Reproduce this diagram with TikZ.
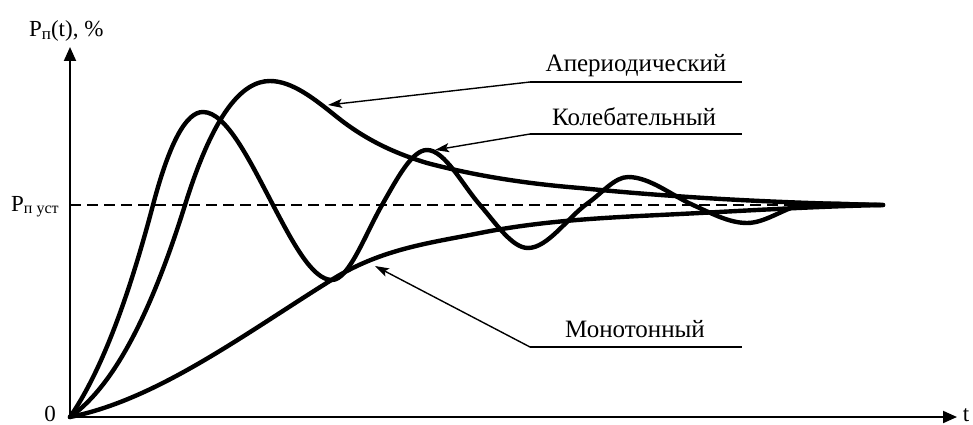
\documentclass[tikz,border=0pt]{standalone}
\usepackage{fontspec}
\setmainfont{Liberation Serif}
\usetikzlibrary{arrows.meta}
\newcommand{\subpp}[2]{\raisebox{-0.1em}{\fontsize{#1}{#1}\selectfont #2}}
\begin{document}
\begin{tikzpicture}[x=1pt,y=-1pt,
  curve/.style={line width=4.4pt, line cap=round, line join=round},
  axisline/.style={line width=2pt, -{Triangle[length=14pt,width=12pt]}},
  leaderline/.style={line width=1.4pt},
  leaderarrow/.style={line width=1.4pt, -{Stealth[length=14pt,width=9pt,inset=3pt]}},
  lbl/.style={font=\fontsize{25}{29}\selectfont, anchor=base, inner sep=0pt},
  axlbl/.style={font=\fontsize{23}{27}\selectfont, inner sep=0pt},
  guide/.style={line width=1.6pt, dash pattern=on 11pt off 6pt}
]
\useasboundingbox (0,0) rectangle (973,425);

% axes
\coordinate (O) at (70,417);
\coordinate (ytop) at (70,47);
\coordinate (xend) at (957,417);
\draw[axisline] (O) -- (ytop);
\draw[axisline] (O) -- (xend);

% axis labels
\node[axlbl, anchor=base west] (ylab) at (29,37) {P\subpp{17}{п}(t), \%};
\node[axlbl, anchor=base west] (plab) at (11,211) {P\subpp{16}{п уст}};
\node[axlbl, anchor=base] (zero) at (50,421) {0};
\node[axlbl, anchor=base] (tlab) at (966,421) {t};

% steady-state dashed line
\coordinate (d1) at (70,205);
\coordinate (d2) at (883,205);
\draw[guide] (d1) -- (d2);

% monotonic
\draw[curve] (70,417)
  .. controls (157.7,399.5) and (245.3,333.4) .. (333,279)
  .. controls (382,248.6) and (431,242.8) .. (480,233)
  .. controls (546.7,219.7) and (613.3,217.3) .. (680,214)
  .. controls (747.7,210.6) and (815.3,206.4) .. (883,205);

% aperiodic
\draw[curve] (70,417)
  .. controls (108.3,390.2) and (146.7,327.7) .. (185,205)
  .. controls (213.3,114.3) and (241.7,81) .. (270,81)
  .. controls (292.3,81) and (314.7,99.1) .. (337,117)
  .. controls (367,141) and (397,154) .. (427,163)
  .. controls (478,176.5) and (529,183.9) .. (580,188)
  .. controls (681,198.1) and (782,203) .. (883,205);

% oscillating
\draw[curve] (70,417)
  .. controls (97.7,376.9) and (125.3,310.1) .. (153,205)
  .. controls (169.7,141.7) and (186.3,112) .. (203,112)
  .. controls (226.3,112) and (249.7,160.7) .. (273,205)
  .. controls (292.7,242.4) and (312.3,280) .. (332,280)
  .. controls (348.7,280) and (365.3,234.2) .. (382,205)
  .. controls (397,178.75) and (412,150) .. (427,150)
  .. controls (444.7,150) and (462.3,184.7) .. (480,205)
  .. controls (496,223.4) and (512,248) .. (528,248)
  .. controls (548,248) and (568,217) .. (588,203)
  .. controls (601.3,193.7) and (614.7,177) .. (628,177)
  .. controls (649.7,177) and (671.3,195.25) .. (693,205)
  .. controls (711,213.1) and (729,223) .. (747,223)
  .. controls (764.7,223) and (782.3,209.4) .. (800,205)
  .. controls (827.7,202.2) and (855.3,205) .. (883,205);

% leaders
\coordinate (a1) at (530,82);  \coordinate (a2) at (742,82);  \coordinate (atip) at (328,105);
\coordinate (k1) at (530,134); \coordinate (k2) at (742,134); \coordinate (ktip) at (435,150);
\coordinate (m1) at (530,347); \coordinate (m2) at (742,347); \coordinate (mtip) at (375,266);
\draw[leaderline] (a1) -- (a2);
\draw[leaderline] (k1) -- (k2);
\draw[leaderline] (m1) -- (m2);
\draw[leaderarrow] (a1) -- (atip);
\draw[leaderarrow] (k1) -- (ktip);
\draw[leaderarrow] (m1) -- (mtip);

\node[lbl] (alab) at (636,72) {Апериодический};
\node[lbl] (klab) at (634,125) {Колебательный};
\node[lbl] (mlab) at (635,337) {Монотонный};
\end{tikzpicture}
\end{document}
